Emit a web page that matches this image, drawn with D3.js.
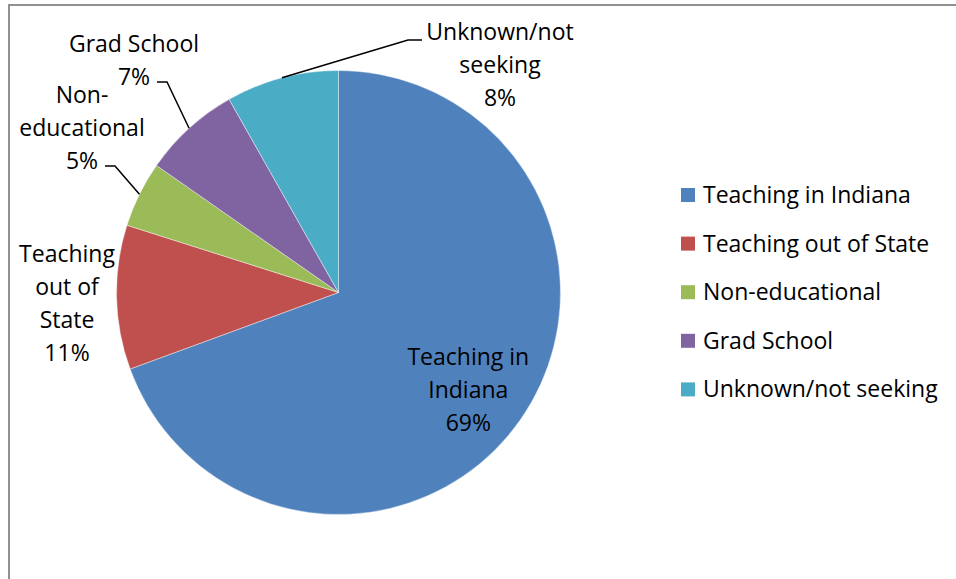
<!DOCTYPE html>
<html>
<head>
<meta charset="utf-8">
<script src="https://cdn.jsdelivr.net/npm/d3@7"></script>
<style>
  html, body { margin: 0; padding: 0; background: #fff; }
  svg { display: block; }
  text { font-family: "Open Sans", Lato, sans-serif; fill: #000; }
</style>
</head>
<body>
<svg id="chart" width="956" height="579"></svg>
<script>
// ---- data ----
const categories = ["Teaching in Indiana", "Teaching out of State", "Non-educational", "Grad School", "Unknown/not seeking"];
const values = [69.4, 10.5, 4.8, 7.1, 8.2];
const colors = ["#4F81BD", "#C0504D", "#9BBB59", "#8064A2", "#4BACC6"];
// label text lines (category part) as shown on the data labels
const labelLines = [["Teaching in", "Indiana"], ["Teaching", "out of", "State"], ["Non-", "educational"], ["Grad School"], ["Unknown/not", "seeking"]];

// ---- layout ----
const W = 956, H = 579;
const cx = 338.5, cy = 292.5, R = 222;
const fontSize = 23, lineH = 33;
// label block centres & leader elbows (annotation layout)
const labelLayout = [
  { inside: true, rFrac: 0.735, off: [-4, 4] },
  { x: 67, y: 303 },
  { x: 82, y: 128, elbow: [115, 166], end: [105, 166] },
  { x: 134, y: 60, elbow: [167, 82], end: [157, 82] },
  { x: 500, y: 65, elbow: [408, 40], end: [422, 40] }
];
const legendX = 681, legendY0 = 195, legendStep = 48.6, swatch = 14;

const svg = d3.select("#chart");

// chart frame
svg.append("rect")
  .attr("x", 9).attr("y", 5)
  .attr("width", W + 20).attr("height", H + 20)
  .attr("fill", "#fff")
  .attr("stroke", "#868686").attr("stroke-width", 1.8);

const data = categories.map((c, i) => ({ name: c, value: values[i], color: colors[i], lines: labelLines[i], layout: labelLayout[i] }));

const pie = d3.pie().value(d => d.value).sort(null);
const arcs = pie(data);
const arc = d3.arc().innerRadius(0).outerRadius(R);

const g = svg.append("g").attr("transform", `translate(${cx},${cy})`);
g.selectAll("path.slice").data(arcs).enter().append("path")
  .attr("class", "slice")
  .attr("d", arc)
  .attr("fill", d => d.data.color)
  .attr("stroke", "#ffffff").attr("stroke-width", 0.6).attr("stroke-opacity", 0.7);

const total = d3.sum(values);
const pct = v => Math.round(v / total * 100) + "%";

// data labels
arcs.forEach(a => {
  const d = a.data, L = d.layout;
  const lines = d.lines.concat([pct(d.value)]);
  let bx, by;
  if (L.inside) {
    const mid = (a.startAngle + a.endAngle) / 2;
    const rr = R * L.rFrac;
    bx = cx + Math.sin(mid) * rr + L.off[0];
    by = cy - Math.cos(mid) * rr + L.off[1];
  } else {
    bx = L.x; by = L.y;
  }
  const t = svg.append("text")
    .attr("text-anchor", "middle")
    .attr("font-size", fontSize);
  lines.forEach((ln, i) => {
    t.append("tspan")
      .attr("x", bx)
      .attr("y", by + (i - (lines.length - 1) / 2) * lineH)
      .attr("dy", "0.35em")
      .text(ln);
  });
  if (L.elbow) {
    const mid = (a.startAngle + a.endAngle) / 2;
    const p0 = [cx + Math.sin(mid) * R, cy - Math.cos(mid) * R];
    svg.append("path")
      .attr("d", d3.line()([p0, L.elbow, L.end]))
      .attr("fill", "none").attr("stroke", "#000").attr("stroke-width", 1.5);
  }
});

// legend
const leg = svg.append("g");
data.forEach((d, i) => {
  const y = legendY0 + i * legendStep;
  leg.append("rect")
    .attr("x", legendX).attr("y", y - swatch / 2)
    .attr("width", swatch).attr("height", swatch)
    .attr("fill", d.color);
  leg.append("text")
    .attr("x", legendX + 22).attr("y", y)
    .attr("dy", "0.35em")
    .attr("font-size", fontSize)
    .text(d.name);
});
</script>
</body>
</html>
